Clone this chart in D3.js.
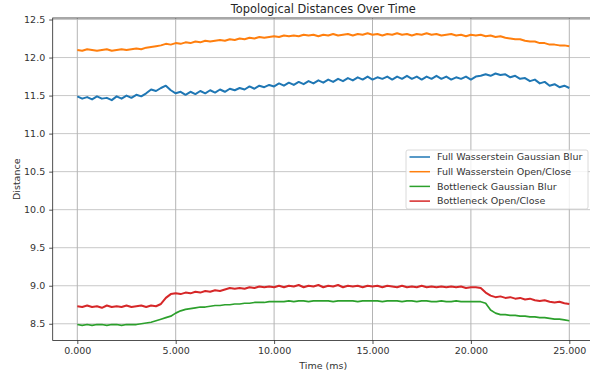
<!DOCTYPE html>
<html>
<head>
<meta charset="utf-8">
<script src="https://cdn.jsdelivr.net/npm/d3@7"></script>
<style>
  body { margin: 0; background: #fff; }
  svg { display: block; font-family: "DejaVu Sans", sans-serif; }
</style>
</head>
<body>
<div id="chart"></div>
<script>
// Tiempos (ms), uno cada 250 ms
const TIMES = [
  0, 250, 500, 750, 1000, 1250, 1500, 1750, 2000, 2250,
  2500, 2750, 3000, 3250, 3500, 3750, 4000, 4250, 4500, 4750,
  5000, 5250, 5500, 5750, 6000, 6250, 6500, 6750, 7000, 7250,
  7500, 7750, 8000, 8250, 8500, 8750, 9000, 9250, 9500, 9750,
  10000, 10250, 10500, 10750, 11000, 11250, 11500, 11750, 12000, 12250,
  12500, 12750, 13000, 13250, 13500, 13750, 14000, 14250, 14500, 14750,
  15000, 15250, 15500, 15750, 16000, 16250, 16500, 16750, 17000, 17250,
  17500, 17750, 18000, 18250, 18500, 18750, 19000, 19250, 19500, 19750,
  20000, 20250, 20500, 20750, 21000, 21250, 21500, 21750, 22000, 22250,
  22500, 22750, 23000, 23250, 23500, 23750, 24000, 24250, 24500, 24750,
  25000
];

const WASS_BLUR = [
  11.49, 11.46, 11.48, 11.45, 11.49, 11.46, 11.47, 11.44, 11.49, 11.46,
  11.50, 11.47, 11.51, 11.49, 11.53, 11.58, 11.56, 11.60, 11.63, 11.57,
  11.53, 11.55, 11.51, 11.55, 11.52, 11.56, 11.53, 11.57, 11.54, 11.58,
  11.55, 11.59, 11.57, 11.60, 11.58, 11.62, 11.59, 11.63, 11.61, 11.64,
  11.62, 11.66, 11.63, 11.67, 11.64, 11.68, 11.65, 11.69, 11.66, 11.70,
  11.67, 11.71, 11.68, 11.72, 11.69, 11.73, 11.70, 11.74, 11.71, 11.75,
  11.71, 11.74, 11.72, 11.75, 11.71, 11.75, 11.72, 11.76, 11.72, 11.75,
  11.71, 11.75, 11.72, 11.76, 11.72, 11.75, 11.71, 11.74, 11.72, 11.75,
  11.71, 11.75, 11.76, 11.78, 11.76, 11.79, 11.77, 11.78, 11.74, 11.76,
  11.72, 11.73, 11.69, 11.71, 11.66, 11.68, 11.63, 11.65, 11.61, 11.63,
  11.60
];

const WASS_OPEN = [
  12.10, 12.09, 12.11, 12.10, 12.09, 12.10, 12.11, 12.09, 12.10, 12.11,
  12.10, 12.11, 12.12, 12.11, 12.13, 12.14, 12.15, 12.16, 12.18, 12.17,
  12.19, 12.18, 12.20, 12.19, 12.21, 12.20, 12.22, 12.21, 12.22, 12.23,
  12.22, 12.24, 12.23, 12.25, 12.24, 12.26, 12.25, 12.27, 12.26, 12.27,
  12.28, 12.27, 12.29, 12.28, 12.29, 12.28, 12.30, 12.29, 12.30, 12.28,
  12.30, 12.29, 12.31, 12.29, 12.30, 12.31, 12.29, 12.31, 12.30, 12.32,
  12.30, 12.31, 12.29, 12.31, 12.30, 12.32, 12.30, 12.31, 12.29, 12.31,
  12.30, 12.32, 12.30, 12.31, 12.29, 12.30, 12.31, 12.29, 12.30, 12.28,
  12.30, 12.29, 12.30, 12.28, 12.29, 12.27, 12.28, 12.26, 12.25, 12.24,
  12.24, 12.22, 12.21, 12.21, 12.19, 12.19, 12.17, 12.17, 12.16, 12.16,
  12.15
];

const BOTTLE_BLUR = [
  8.49, 8.48, 8.49, 8.48, 8.49, 8.49, 8.48, 8.49, 8.49, 8.48,
  8.49, 8.49, 8.49, 8.50, 8.51, 8.52, 8.54, 8.56, 8.58, 8.60,
  8.64, 8.67, 8.69, 8.70, 8.71, 8.72, 8.72, 8.73, 8.74, 8.74,
  8.75, 8.75, 8.76, 8.76, 8.77, 8.77, 8.78, 8.78, 8.78, 8.79,
  8.79, 8.79, 8.79, 8.80, 8.79, 8.80, 8.80, 8.79, 8.80, 8.80,
  8.80, 8.80, 8.79, 8.80, 8.80, 8.80, 8.80, 8.79, 8.80, 8.80,
  8.80, 8.80, 8.79, 8.80, 8.80, 8.80, 8.79, 8.80, 8.80, 8.79,
  8.80, 8.80, 8.79, 8.79, 8.80, 8.79, 8.79, 8.80, 8.79, 8.79,
  8.79, 8.79, 8.79, 8.77, 8.68, 8.64, 8.62, 8.62, 8.61, 8.61,
  8.60, 8.60, 8.59, 8.59, 8.58, 8.58, 8.57, 8.56, 8.56, 8.55,
  8.54
];

const BOTTLE_OPEN = [
  8.73, 8.72, 8.74, 8.72, 8.73, 8.71, 8.74, 8.72, 8.73, 8.72,
  8.74, 8.72, 8.73, 8.74, 8.72, 8.74, 8.73, 8.76, 8.84, 8.89,
  8.90, 8.89, 8.91, 8.90, 8.92, 8.91, 8.93, 8.92, 8.94, 8.93,
  8.95, 8.97, 8.96, 8.97, 8.96, 8.98, 8.97, 8.99, 8.98, 8.99,
  8.98, 9.00, 8.98, 9.00, 8.99, 9.01, 8.98, 9.00, 8.99, 9.01,
  8.98, 9.00, 8.99, 9.01, 8.98, 9.00, 8.99, 9.00, 8.98, 9.00,
  8.99, 9.00, 8.98, 9.00, 8.99, 8.98, 9.00, 8.98, 8.99, 8.98,
  9.00, 8.98, 8.99, 8.98, 8.99, 8.98, 8.99, 8.98, 8.99, 8.97,
  8.98, 8.98, 8.97, 8.91, 8.87, 8.85, 8.86, 8.84, 8.85, 8.83,
  8.84, 8.82, 8.83, 8.81, 8.80, 8.81, 8.79, 8.78, 8.79, 8.77,
  8.76
];

const SERIES_NAMES = [
  "Full Wasserstein Gaussian Blur",
  "Full Wasserstein Open/Close",
  "Bottleneck Gaussian Blur",
  "Bottleneck Open/Close"
];
const SERIES_VALUES = [WASS_BLUR, WASS_OPEN, BOTTLE_BLUR, BOTTLE_OPEN];
const COLORS = ["#1f77b4", "#ff7f0e", "#2ca02c", "#d62728"];

const X_TICKS = [0, 5000, 10000, 15000, 20000, 25000];
const X_TICK_LABELS = ["0.000", "5.000", "10.000", "15.000", "20.000", "25.000"];
const Y_TICKS = [8.5, 9.0, 9.5, 10.0, 10.5, 11.0, 11.5, 12.0, 12.5];

const WIDTH = 590;
const HEIGHT = 377;
const PLOT = { left: 52.7, right: 593.9, top: 18, bottom: 340.5 };

const SVG = d3.select("#chart").append("svg")
  .attr("width", WIDTH).attr("height", HEIGHT);

// Escalas (con margen de 5% como matplotlib)
const x = d3.scaleLinear().domain([-1250, 26250]).range([PLOT.left, PLOT.right]);
const y = d3.scaleLinear().domain([8.28, 12.52]).range([PLOT.bottom, PLOT.top]);

// Grilla
SVG.append("g").selectAll("line").data(Y_TICKS).join("line")
  .attr("x1", PLOT.left).attr("x2", PLOT.right)
  .attr("y1", d => y(d)).attr("y2", d => y(d))
  .attr("stroke", "#c8c8c8").attr("stroke-width", 1);
SVG.append("g").selectAll("line").data(X_TICKS).join("line")
  .attr("x1", d => x(d)).attr("x2", d => x(d))
  .attr("y1", PLOT.top).attr("y2", PLOT.bottom)
  .attr("stroke", "#b4b4b4").attr("stroke-width", 1);

// Lineas
const WIDTHS = [2.0, 2.0, 1.7, 2.0];
const line = d3.line().x((d, i) => x(TIMES[i])).y(d => y(d));
SVG.append("g").selectAll("path").data(SERIES_VALUES).join("path")
  .attr("d", d => line(d))
  .attr("fill", "none")
  .attr("stroke", (d, i) => COLORS[i])
  .attr("stroke-width", (d, i) => WIDTHS[i])
  .attr("stroke-linejoin", "round");

// Ejes
const xAxis = d3.axisBottom(x).tickValues(X_TICKS)
  .tickFormat((d, i) => X_TICK_LABELS[i]).tickSize(3.5).tickPadding(3);
const gx = SVG.append("g").attr("transform", `translate(0, ${PLOT.bottom})`).call(xAxis);
const yAxis = d3.axisLeft(y).tickValues(Y_TICKS)
  .tickFormat(d3.format(".1f")).tickSize(3.5).tickPadding(4);
const gy = SVG.append("g").attr("transform", `translate(${PLOT.left}, 0)`).call(yAxis);

[gx, gy].forEach(g => {
  g.select(".domain").remove();
  g.selectAll("text").attr("font-size", "9.5px").attr("fill", "#333")
    .attr("font-family", "DejaVu Sans");
  g.selectAll("line").attr("stroke", "#262626").attr("stroke-width", 0.8);
});

// Marco (spines)
SVG.append("rect")
  .attr("x", PLOT.left).attr("y", PLOT.top)
  .attr("width", PLOT.right - PLOT.left).attr("height", PLOT.bottom - PLOT.top)
  .attr("fill", "none").attr("stroke", "#262626").attr("stroke-width", 0.8);

// Titulo y etiquetas
SVG.append("text").text("Topological Distances Over Time")
  .attr("x", (PLOT.left + PLOT.right) / 2).attr("y", 12.5)
  .attr("text-anchor", "middle").attr("font-size", "11.4px").attr("fill", "#262626");
SVG.append("text").text("Time (ms)")
  .attr("x", (PLOT.left + PLOT.right) / 2).attr("y", 368.5)
  .attr("text-anchor", "middle").attr("font-size", "9.5px").attr("fill", "#333");
SVG.append("text").text("Distance")
  .attr("transform", `translate(19.5, ${(PLOT.top + PLOT.bottom) / 2}) rotate(-90)`)
  .attr("text-anchor", "middle").attr("font-size", "9.5px").attr("fill", "#333");

// Leyenda
const LEG = { x: 406, y: 150, w: 182, h: 59 };
const legend = SVG.append("g");
legend.append("rect")
  .attr("x", LEG.x).attr("y", LEG.y).attr("width", LEG.w).attr("height", LEG.h)
  .attr("rx", 2).attr("fill", "#fff").attr("fill-opacity", 0.8)
  .attr("stroke", "#d0d0d0").attr("stroke-width", 0.8);
const items = legend.selectAll(".item").data(SERIES_NAMES).join("g")
  .attr("class", "item")
  .attr("transform", (d, i) => `translate(${LEG.x}, ${LEG.y + 7 + i * 14.7})`);
items.append("line")
  .attr("x1", 3.5).attr("x2", 24).attr("y1", 0).attr("y2", 0)
  .attr("stroke", (d, i) => COLORS[i]).attr("stroke-width", 1.5);
items.append("text").text(d => d)
  .attr("x", 31).attr("y", 0).attr("dy", "0.35em")
  .attr("font-size", "9.5px").attr("fill", "#333");
</script>
</body>
</html>
